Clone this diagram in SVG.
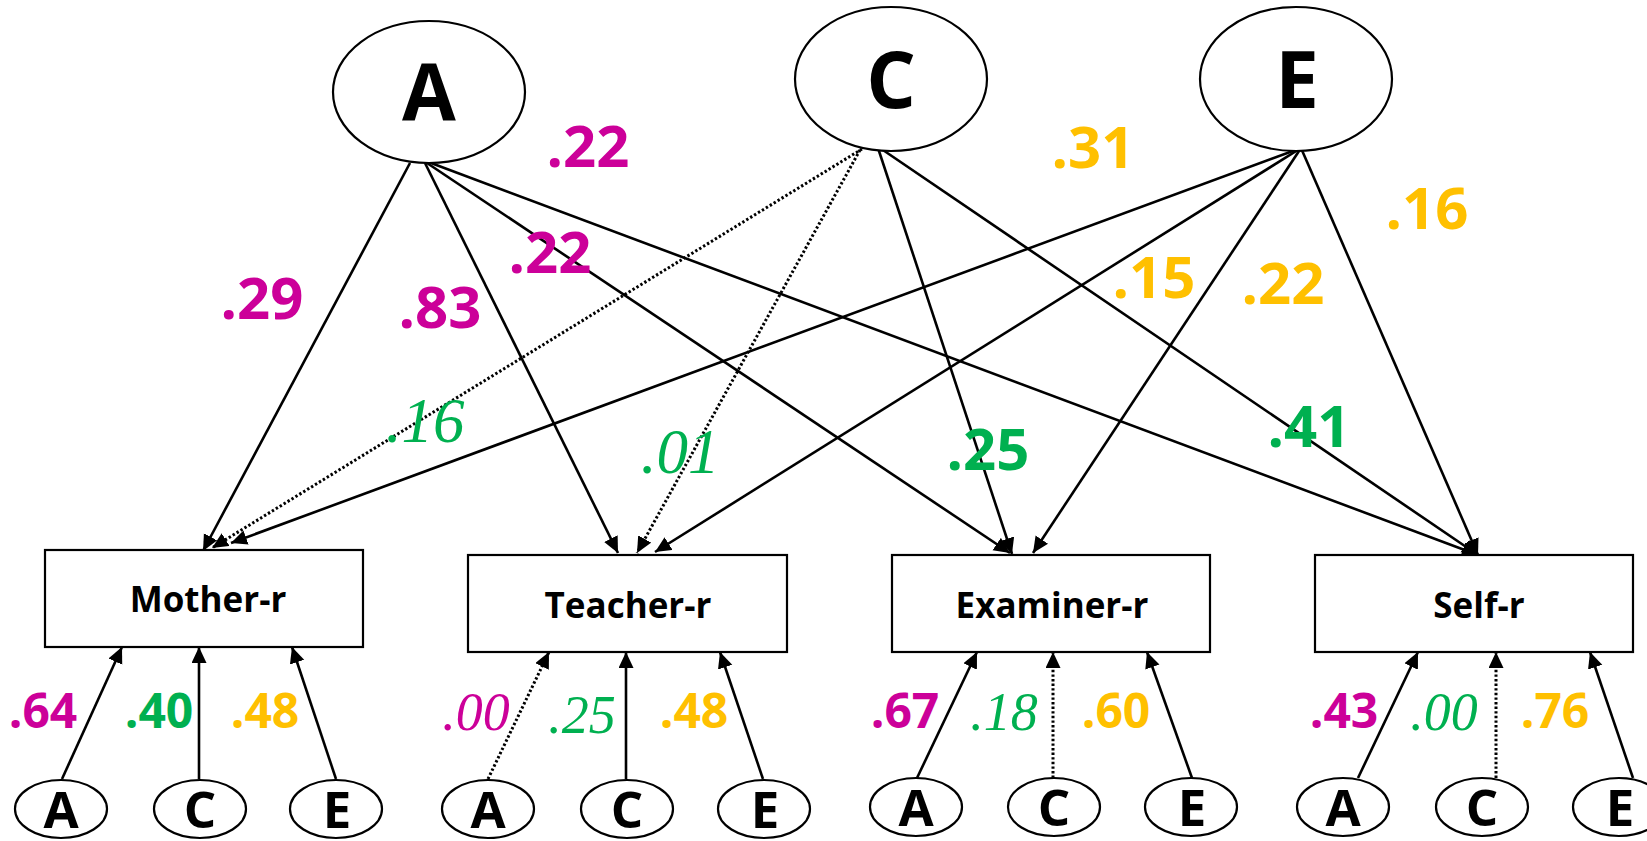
<svg xmlns="http://www.w3.org/2000/svg" width="1647" height="841" viewBox="0 0 1647 841">
<defs>
<marker id="ah" markerUnits="userSpaceOnUse" markerWidth="18" markerHeight="16" refX="16" refY="7.5" orient="auto">
<path d="M0,0 L16,7.5 L0,15 z" fill="#000"/>
</marker>
<style>
.nd{fill:#fff;stroke:#000;stroke-width:2.2}
.lt{font-family:"Open Sans","Liberation Sans",sans-serif;font-weight:700;fill:#000;text-anchor:middle}
.big{font-size:78px}
.sm{font-size:51px}
.bx{font-size:35px}
.c{fill:none;stroke:#000;stroke-width:2.6;marker-end:url(#ah)}
.d{stroke-width:3;stroke-dasharray:2.4 2.2}
.b{font-family:"Open Sans","Liberation Sans",sans-serif;font-weight:700;text-anchor:middle}
.bt{font-size:58px}
.bb{font-size:48px}
.i{font-family:"Liberation Serif","Times New Roman",serif;font-style:italic;text-anchor:middle}
.it{font-size:63px}
.ib{font-size:54px}
.m{fill:#CC0099}
.g{fill:#00B050}
.o{fill:#FFC000}
</style>
</defs>
<rect width="1647" height="841" fill="#fff"/>

<g id="connectors">
<line class="c" x1="410" y1="163" x2="203" y2="551"/>
<line class="c" x1="425" y1="163" x2="618" y2="553"/>
<line class="c" x1="427" y1="163" x2="1010" y2="553"/>
<line class="c" x1="431" y1="163" x2="1478" y2="555"/>
<line class="c d" x1="862" y1="149" x2="212" y2="548"/>
<line class="c d" x1="860" y1="150" x2="637" y2="553"/>
<line class="c" x1="878" y1="148" x2="1012" y2="554"/>
<line class="c" x1="880" y1="148" x2="1478" y2="555"/>
<line class="c" x1="1301" y1="148" x2="231" y2="543"/>
<line class="c" x1="1301" y1="148" x2="655" y2="552"/>
<line class="c" x1="1301" y1="148" x2="1033" y2="553"/>
<line class="c" x1="1301" y1="148" x2="1478" y2="555"/>

<line class="c" x1="62" y1="779" x2="122" y2="647"/>
<line class="c" x1="199" y1="779" x2="199" y2="647"/>
<line class="c" x1="336" y1="779" x2="292" y2="647"/>
<line class="c d" x1="488" y1="779" x2="549" y2="652"/>
<line class="c" x1="626" y1="779" x2="626" y2="652"/>
<line class="c" x1="763" y1="779" x2="720" y2="652"/>
<line class="c" x1="917" y1="778" x2="977" y2="652"/>
<line class="c d" x1="1053" y1="778" x2="1053" y2="652"/>
<line class="c" x1="1192" y1="778" x2="1147" y2="652"/>
<line class="c" x1="1358" y1="778" x2="1418" y2="652"/>
<line class="c d" x1="1496" y1="778" x2="1496" y2="652"/>
<line class="c" x1="1633" y1="778" x2="1590" y2="652"/>
</g>

<g id="node-A">
<ellipse class="nd" cx="429" cy="92" rx="96" ry="71"/>
<text class="lt big" x="429" y="120">A</text>
</g>
<g id="node-C">
<ellipse class="nd" cx="891" cy="79" rx="96" ry="72"/>
<text class="lt big" x="891" y="108">C</text>
</g>
<g id="node-E">
<ellipse class="nd" cx="1296" cy="79" rx="96" ry="72"/>
<text class="lt big" x="1297" y="108">E</text>
</g>

<g id="node-mother">
<rect class="nd" x="45" y="550" width="318" height="97"/>
<text class="lt bx" x="208" y="612">Mother-r</text>
</g>
<g id="node-teacher">
<rect class="nd" x="468" y="555" width="319" height="97"/>
<text class="lt bx" x="628" y="618">Teacher-r</text>
</g>
<g id="node-examiner">
<rect class="nd" x="892" y="555" width="318" height="97"/>
<text class="lt bx" x="1052" y="618">Examiner-r</text>
</g>
<g id="node-self">
<rect class="nd" x="1315" y="555" width="318" height="97"/>
<text class="lt bx" x="1479" y="618">Self-r</text>
</g>

<g id="node-mother-A"><ellipse class="nd" cx="61" cy="809" rx="46" ry="29"/><text class="lt sm" x="61" y="828">A</text></g>
<g id="node-mother-C"><ellipse class="nd" cx="200" cy="809" rx="46" ry="29"/><text class="lt sm" x="200" y="828">C</text></g>
<g id="node-mother-E"><ellipse class="nd" cx="336" cy="809" rx="46" ry="29"/><text class="lt sm" x="337" y="828">E</text></g>
<g id="node-teacher-A"><ellipse class="nd" cx="488" cy="809" rx="46" ry="29"/><text class="lt sm" x="488" y="828">A</text></g>
<g id="node-teacher-C"><ellipse class="nd" cx="627" cy="809" rx="46" ry="29"/><text class="lt sm" x="627" y="828">C</text></g>
<g id="node-teacher-E"><ellipse class="nd" cx="764" cy="809" rx="46" ry="29"/><text class="lt sm" x="765" y="828">E</text></g>
<g id="node-examiner-A"><ellipse class="nd" cx="916" cy="807" rx="46" ry="29"/><text class="lt sm" x="916" y="826">A</text></g>
<g id="node-examiner-C"><ellipse class="nd" cx="1054" cy="807" rx="46" ry="29"/><text class="lt sm" x="1054" y="826">C</text></g>
<g id="node-examiner-E"><ellipse class="nd" cx="1191" cy="807" rx="46" ry="29"/><text class="lt sm" x="1192" y="826">E</text></g>
<g id="node-self-A"><ellipse class="nd" cx="1343" cy="807" rx="46" ry="29"/><text class="lt sm" x="1343" y="826">A</text></g>
<g id="node-self-C"><ellipse class="nd" cx="1482" cy="807" rx="46" ry="29"/><text class="lt sm" x="1482" y="826">C</text></g>
<g id="node-self-E"><ellipse class="nd" cx="1619" cy="807" rx="46" ry="29"/><text class="lt sm" x="1620" y="826">E</text></g>

<g id="labels">
<text class="b bt m" x="588" y="167">.22</text>
<text class="b bt m" x="262" y="319">.29</text>
<text class="b bt m" x="440" y="328">.83</text>
<text class="b bt m" x="550" y="273">.22</text>
<text class="b bt o" x="1093" y="168">.31</text>
<text class="b bt o" x="1427" y="229">.16</text>
<text class="b bt o" x="1154" y="298">.15</text>
<text class="b bt o" x="1283" y="304">.22</text>
<text class="b bt g" x="988" y="470">.25</text>
<text class="b bt g" x="1309" y="447">.41</text>
<text class="i it g" x="425" y="442">.16</text>
<text class="i it g" x="680" y="473">.01</text>

<text class="b bb m" x="43" y="728">.64</text>
<text class="b bb g" x="159" y="728">.40</text>
<text class="b bb o" x="265" y="728">.48</text>
<text class="i ib m" x="476" y="730">.00</text>
<text class="i ib g" x="582" y="733">.25</text>
<text class="b bb o" x="694" y="728">.48</text>
<text class="b bb m" x="905" y="728">.67</text>
<text class="i ib g" x="1004" y="730">.18</text>
<text class="b bb o" x="1116" y="728">.60</text>
<text class="b bb m" x="1344" y="728">.43</text>
<text class="i ib g" x="1444" y="730">.00</text>
<text class="b bb o" x="1555" y="728">.76</text>
</g>
</svg>
